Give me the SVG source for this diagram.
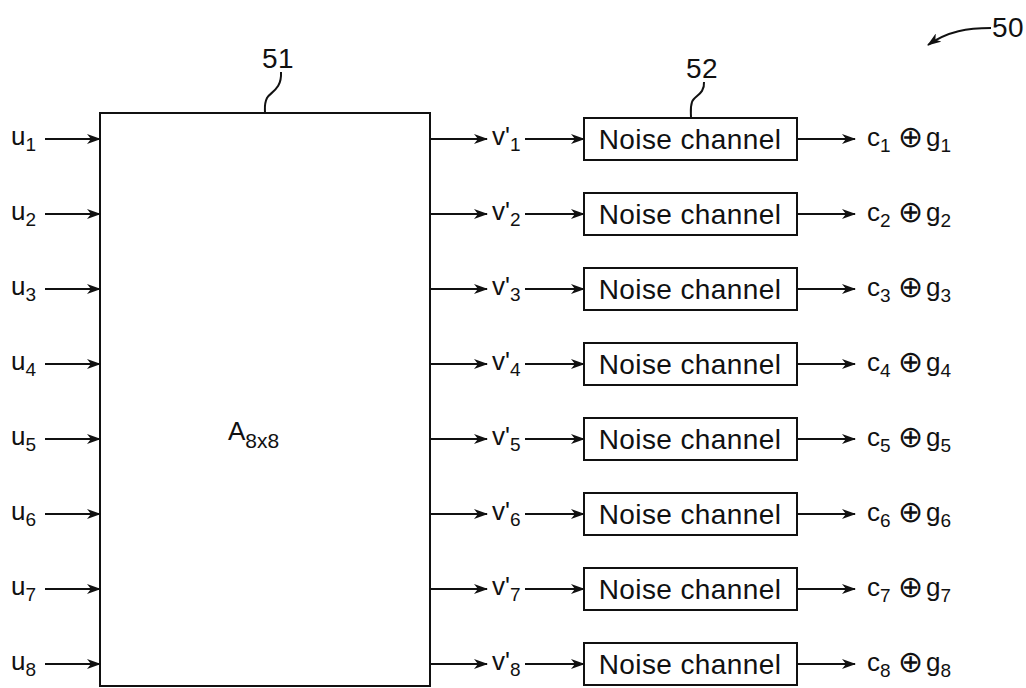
<svg xmlns="http://www.w3.org/2000/svg" width="1026" height="688" viewBox="0 0 1026 688">
<style>
.box{fill:#fff;stroke:#111;stroke-width:2}
.ln{fill:none;stroke:#111;stroke-width:2}
.t{font-family:"Liberation Sans",Arial,sans-serif;font-size:26px;fill:#111}
.n{font-size:28px;letter-spacing:0.4px}
.s{font-size:19px}
.o{font-size:30px}
</style>
<defs>
<marker id="ah" viewBox="0 0 14 10" refX="13" refY="5" markerWidth="14" markerHeight="10" markerUnits="userSpaceOnUse" orient="auto">
<path d="M0,0 L14,5 L0,10 L4,5 Z" fill="#111"/>
</marker>
</defs>
<rect width="1026" height="688" fill="#fff"/>
<g id="matrix">
<rect class="box" x="100" y="113" width="330" height="573"/>
<text class="t" x="228" y="440">A<tspan class="s" style="font-size:21px" dy="8">8x8</tspan></text>
</g>
<g id="label51">
<text class="t n" x="262" y="68">51</text>
<path class="ln" d="M281,72 C282,90 270,92 267,98 C264,104 265,108 265,113"/>
</g>
<g id="label52">
<text class="t n" x="686" y="78">52</text>
<path class="ln" d="M704,82 C705,94 694,96 692,102 C690,108 691,112 691,118"/>
</g>
<g id="label50">
<text class="t n" x="992" y="37">50</text>
<path class="ln" d="M991,28 C968,28 948,31 928,45" marker-end="url(#ah)"/>
</g>
<g id="inputs">
<text class="t" x="11" y="145">u<tspan class="s" dy="6">1</tspan></text>
<text class="t" x="11" y="220">u<tspan class="s" dy="6">2</tspan></text>
<text class="t" x="11" y="295">u<tspan class="s" dy="6">3</tspan></text>
<text class="t" x="11" y="370">u<tspan class="s" dy="6">4</tspan></text>
<text class="t" x="11" y="445">u<tspan class="s" dy="6">5</tspan></text>
<text class="t" x="11" y="520">u<tspan class="s" dy="6">6</tspan></text>
<text class="t" x="11" y="595">u<tspan class="s" dy="6">7</tspan></text>
<text class="t" x="11" y="670">u<tspan class="s" dy="6">8</tspan></text>
</g>
<g id="vlabels">
<text class="t" x="492" y="145">v'<tspan class="s" dy="6">1</tspan></text>
<text class="t" x="492" y="220">v'<tspan class="s" dy="6">2</tspan></text>
<text class="t" x="492" y="295">v'<tspan class="s" dy="6">3</tspan></text>
<text class="t" x="492" y="370">v'<tspan class="s" dy="6">4</tspan></text>
<text class="t" x="492" y="445">v'<tspan class="s" dy="6">5</tspan></text>
<text class="t" x="492" y="520">v'<tspan class="s" dy="6">6</tspan></text>
<text class="t" x="492" y="595">v'<tspan class="s" dy="6">7</tspan></text>
<text class="t" x="492" y="670">v'<tspan class="s" dy="6">8</tspan></text>
</g>
<g id="noise1"><rect class="box" x="584" y="118" width="213" height="42"/><text class="t n" x="690" y="149" text-anchor="middle">Noise channel</text></g>
<g id="noise2"><rect class="box" x="584" y="193" width="213" height="42"/><text class="t n" x="690" y="224" text-anchor="middle">Noise channel</text></g>
<g id="noise3"><rect class="box" x="584" y="268" width="213" height="42"/><text class="t n" x="690" y="299" text-anchor="middle">Noise channel</text></g>
<g id="noise4"><rect class="box" x="584" y="343" width="213" height="42"/><text class="t n" x="690" y="374" text-anchor="middle">Noise channel</text></g>
<g id="noise5"><rect class="box" x="584" y="418" width="213" height="42"/><text class="t n" x="690" y="449" text-anchor="middle">Noise channel</text></g>
<g id="noise6"><rect class="box" x="584" y="493" width="213" height="42"/><text class="t n" x="690" y="524" text-anchor="middle">Noise channel</text></g>
<g id="noise7"><rect class="box" x="584" y="568" width="213" height="42"/><text class="t n" x="690" y="599" text-anchor="middle">Noise channel</text></g>
<g id="noise8"><rect class="box" x="584" y="643" width="213" height="42"/><text class="t n" x="690" y="674" text-anchor="middle">Noise channel</text></g>
<g id="outputs">
<text class="t" x="867" y="146">c<tspan class="s" dy="6">1</tspan><tspan class="o" x="898" dy="-5">⊕</tspan><tspan x="926" dy="-1">g</tspan><tspan class="s" dy="6">1</tspan></text>
<text class="t" x="867" y="221">c<tspan class="s" dy="6">2</tspan><tspan class="o" x="898" dy="-5">⊕</tspan><tspan x="926" dy="-1">g</tspan><tspan class="s" dy="6">2</tspan></text>
<text class="t" x="867" y="296">c<tspan class="s" dy="6">3</tspan><tspan class="o" x="898" dy="-5">⊕</tspan><tspan x="926" dy="-1">g</tspan><tspan class="s" dy="6">3</tspan></text>
<text class="t" x="867" y="371">c<tspan class="s" dy="6">4</tspan><tspan class="o" x="898" dy="-5">⊕</tspan><tspan x="926" dy="-1">g</tspan><tspan class="s" dy="6">4</tspan></text>
<text class="t" x="867" y="446">c<tspan class="s" dy="6">5</tspan><tspan class="o" x="898" dy="-5">⊕</tspan><tspan x="926" dy="-1">g</tspan><tspan class="s" dy="6">5</tspan></text>
<text class="t" x="867" y="521">c<tspan class="s" dy="6">6</tspan><tspan class="o" x="898" dy="-5">⊕</tspan><tspan x="926" dy="-1">g</tspan><tspan class="s" dy="6">6</tspan></text>
<text class="t" x="867" y="596">c<tspan class="s" dy="6">7</tspan><tspan class="o" x="898" dy="-5">⊕</tspan><tspan x="926" dy="-1">g</tspan><tspan class="s" dy="6">7</tspan></text>
<text class="t" x="867" y="671">c<tspan class="s" dy="6">8</tspan><tspan class="o" x="898" dy="-5">⊕</tspan><tspan x="926" dy="-1">g</tspan><tspan class="s" dy="6">8</tspan></text>
</g>
<g id="connectors">
<path class="ln" marker-end="url(#ah)" d="M45,139 H100"/><path class="ln" marker-end="url(#ah)" d="M431,139 H487"/><path class="ln" marker-end="url(#ah)" d="M525,139 H584"/><path class="ln" marker-end="url(#ah)" d="M798,139 H855"/>
<path class="ln" marker-end="url(#ah)" d="M45,214 H100"/><path class="ln" marker-end="url(#ah)" d="M431,214 H487"/><path class="ln" marker-end="url(#ah)" d="M525,214 H584"/><path class="ln" marker-end="url(#ah)" d="M798,214 H855"/>
<path class="ln" marker-end="url(#ah)" d="M45,289 H100"/><path class="ln" marker-end="url(#ah)" d="M431,289 H487"/><path class="ln" marker-end="url(#ah)" d="M525,289 H584"/><path class="ln" marker-end="url(#ah)" d="M798,289 H855"/>
<path class="ln" marker-end="url(#ah)" d="M45,364 H100"/><path class="ln" marker-end="url(#ah)" d="M431,364 H487"/><path class="ln" marker-end="url(#ah)" d="M525,364 H584"/><path class="ln" marker-end="url(#ah)" d="M798,364 H855"/>
<path class="ln" marker-end="url(#ah)" d="M45,439 H100"/><path class="ln" marker-end="url(#ah)" d="M431,439 H487"/><path class="ln" marker-end="url(#ah)" d="M525,439 H584"/><path class="ln" marker-end="url(#ah)" d="M798,439 H855"/>
<path class="ln" marker-end="url(#ah)" d="M45,514 H100"/><path class="ln" marker-end="url(#ah)" d="M431,514 H487"/><path class="ln" marker-end="url(#ah)" d="M525,514 H584"/><path class="ln" marker-end="url(#ah)" d="M798,514 H855"/>
<path class="ln" marker-end="url(#ah)" d="M45,589 H100"/><path class="ln" marker-end="url(#ah)" d="M431,589 H487"/><path class="ln" marker-end="url(#ah)" d="M525,589 H584"/><path class="ln" marker-end="url(#ah)" d="M798,589 H855"/>
<path class="ln" marker-end="url(#ah)" d="M45,664 H100"/><path class="ln" marker-end="url(#ah)" d="M431,664 H487"/><path class="ln" marker-end="url(#ah)" d="M525,664 H584"/><path class="ln" marker-end="url(#ah)" d="M798,664 H855"/>
</g>
</svg>
